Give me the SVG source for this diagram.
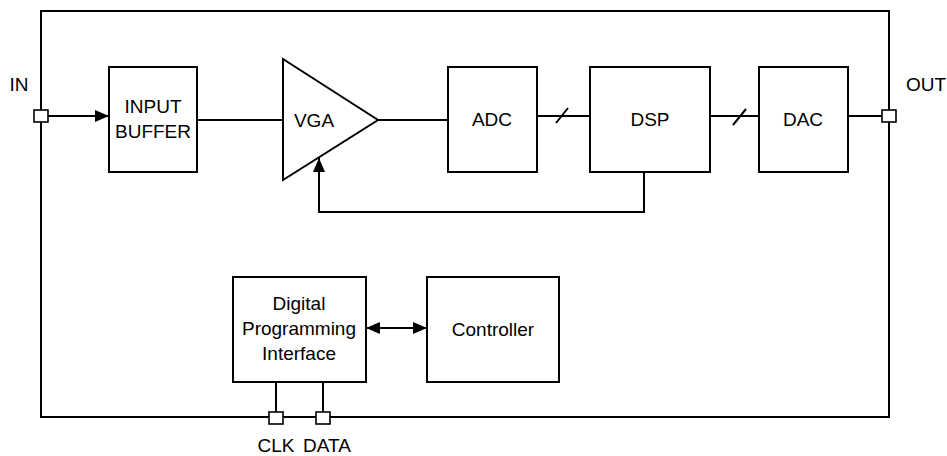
<svg xmlns="http://www.w3.org/2000/svg" width="947" height="456" viewBox="0 0 947 456">
<defs>
<marker id="arr" viewBox="0 0 14 12" refX="14" refY="6" markerWidth="14" markerHeight="12" markerUnits="userSpaceOnUse" orient="auto-start-reverse">
<path d="M0,0 L14,6 L0,12 Z" fill="#000"/>
</marker>
</defs>
<style>
.box{fill:#fff;stroke:#000;stroke-width:2}
.ln{fill:none;stroke:#000;stroke-width:2}
.port{fill:#fff;stroke:#000;stroke-width:1.6}
text{font-family:"Liberation Sans",Arial,sans-serif;font-size:19px;fill:#000;text-anchor:middle}
</style>
<rect width="947" height="456" fill="#fff"/>
<g id="chip"><rect x="41" y="11" width="848" height="406" class="ln"/></g>
<g id="connectors">
<line x1="48" y1="116" x2="109" y2="116" class="ln" marker-end="url(#arr)"/>
<line x1="197" y1="120" x2="283" y2="120" class="ln"/>
<line x1="378" y1="120" x2="448" y2="120" class="ln"/>
<line x1="537" y1="116" x2="590" y2="116" class="ln"/>
<line x1="556" y1="123" x2="568" y2="108" class="ln"/>
<line x1="710" y1="116" x2="759" y2="116" class="ln"/>
<line x1="733" y1="125" x2="746" y2="109" class="ln"/>
<line x1="848" y1="116" x2="882" y2="116" class="ln"/>
<polyline points="644,172 644,212 319,212 319,158" class="ln" marker-end="url(#arr)"/>
<line x1="366" y1="328" x2="427" y2="328" class="ln" marker-start="url(#arr)" marker-end="url(#arr)"/>
<line x1="276" y1="382" x2="276" y2="412" class="ln"/>
<line x1="323" y1="382" x2="323" y2="412" class="ln"/>
</g>
<g id="in-port"><rect x="34" y="110" width="14" height="12" class="port"/><text x="19" y="91">IN</text></g>
<g id="out-port"><rect x="882" y="110" width="14" height="12" class="port"/><text x="926" y="91">OUT</text></g>
<g id="input-buffer"><rect x="109" y="67" width="88" height="105" class="box"/><text x="153" y="113">INPUT</text><text x="153" y="138">BUFFER</text></g>
<g id="vga"><polygon points="283,59 378,120 283,180" class="box"/><text x="314" y="127">VGA</text></g>
<g id="adc"><rect x="448" y="67" width="89" height="105" class="box"/><text x="492" y="126">ADC</text></g>
<g id="dsp"><rect x="590" y="67" width="120" height="105" class="box"/><text x="650" y="126">DSP</text></g>
<g id="dac"><rect x="759" y="67" width="89" height="105" class="box"/><text x="803" y="126">DAC</text></g>
<g id="dpi"><rect x="233" y="277" width="133" height="105" class="box"/><text x="299" y="310">Digital</text><text x="299" y="335">Programming</text><text x="299" y="360">Interface</text></g>
<g id="controller"><rect x="427" y="277" width="132" height="105" class="box"/><text x="493" y="336">Controller</text></g>
<g id="clk-port"><rect x="269" y="412" width="14" height="12" class="port"/><text x="276" y="452">CLK</text></g>
<g id="data-port"><rect x="316" y="412" width="14" height="12" class="port"/><text x="327" y="452">DATA</text></g>
</svg>
